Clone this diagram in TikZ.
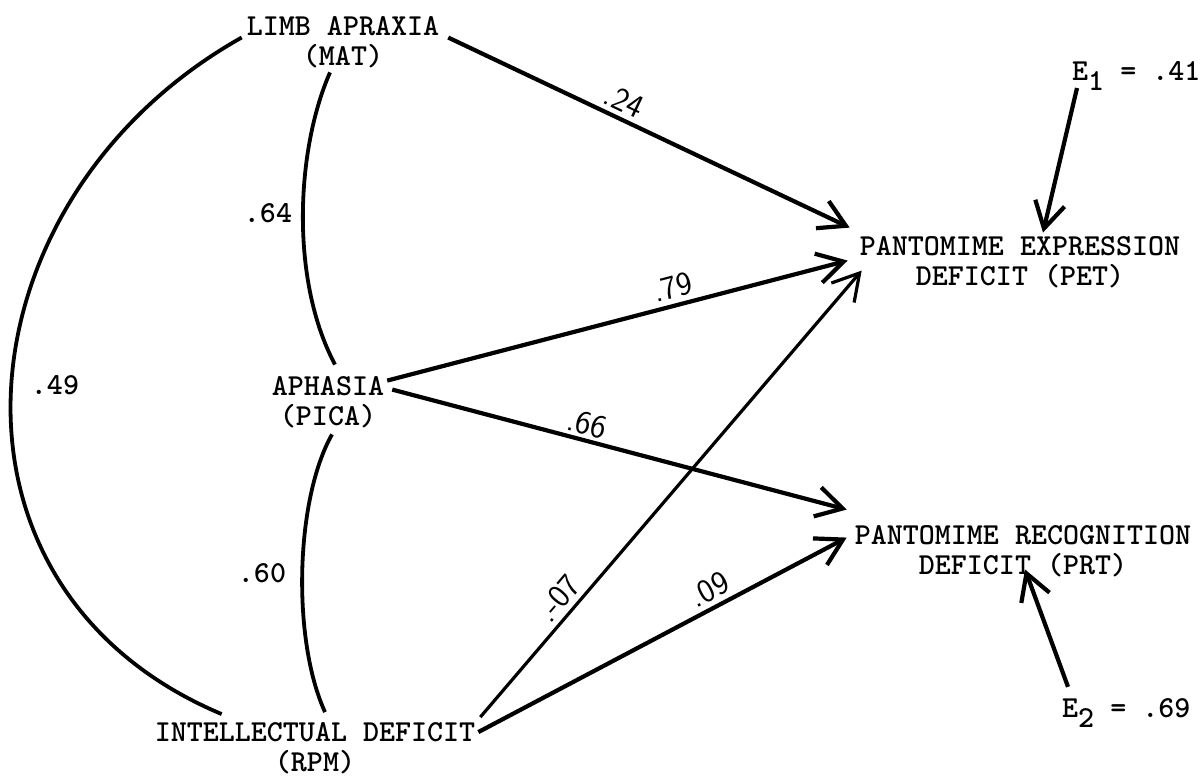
\documentclass[tikz,border=0pt]{standalone}
\usepackage{tikz}
\usetikzlibrary{arrows.meta}

\begin{document}
\begin{tikzpicture}[x=1pt, y=-1pt,
    var/.style={font=\ttfamily\bfseries\fontsize{30.5}{30}\selectfont, align=center, inner sep=0pt},
    coef/.style={font=\sffamily\fontsize{33}{33}\selectfont, sloped, above, inner sep=5pt},
    effect/.style={line width=4.2pt, -{Straight Barb[length=26pt,width=30pt]}},
    corr/.style={line width=3.8pt}]
  \useasboundingbox (0,0) rectangle (1204,778);

  % variables
  \node[var] (mat) at (343,42.5) {LIMB APRAXIA\\(MAT)};
  \node[var] (pica) at (328,402.5) {APHASIA\\(PICA)};
  \node[var] (rpm) at (315,748) {INTELLECTUAL DEFICIT\\(RPM)};
  \node[var] (pet) at (1020,262.5) {PANTOMIME EXPRESSION\\DEFICIT (PET)};
  \node[var] (prt) at (1023,551.5) {PANTOMIME RECOGNITION\\DEFICIT (PRT)};
  \node[var, anchor=base west] (e1) at (1072,81) {E\raisebox{-10pt}{1} = .41};
  \node[var, anchor=base west] (e2) at (1062,717) {E\raisebox{-10pt}{2} = .69};

  % correlations
  \draw[corr] ([shift={(-13,4)}]mat.south) .. controls (296,150) and (290,280) .. ([shift={(7,-12)}]pica.north);
  \draw[corr] ([shift={(4,6)}]pica.south) .. controls (295,500) and (292,640) .. ([shift={(10,-10)}]rpm.north);
  \draw[corr] ([shift={(-5,-5)}]mat.west) .. controls (-44,198) and (-81,587) .. ([shift={(67,-8)}]rpm.north west);
  \node[var] (rma) at (268,213) {.64};
  \node[var] (rai) at (262,573) {.60};
  \node[var] (rmi) at (55,385) {.49};

  % paths
  \draw[effect] ([shift={(9,21)}]mat.north east) -- node[coef, pos=0.42] (b24) {.24} ([shift={(-10,-9)}]pet.north west);
  \draw[effect] ([shift={(3,4)}]pica.north east) -- node[coef, pos=0.63] (b79) {.79} ([shift={(-12,24)}]pet.north west);
  \draw[effect] ([shift={(8,13)}]pica.north east) -- node[coef, pos=0.42, inner sep=3pt] (b66) {.66} ([shift={(-8,-16)}]prt.north west);
  \draw[effect, line width=3.2pt] ([shift={(5,-5)}]rpm.north east) -- node[coef, pos=0.24] (b07) {.-07} ([shift={(2,34)}]pet.north west);
  \draw[effect] ([shift={(3,10)}]rpm.north east) -- node[coef, pos=0.65] (b09) {.09} ([shift={(-8,12)}]prt.north west);

  % residuals
  \draw[effect] ([shift={(5,7)}]e1.base west) -- ([shift={(23,-4)}]pet.north);
  \draw[effect] ([shift={(6,-11)}]e2.north west) -- ([shift={(2,-8)}]prt.south);
\end{tikzpicture}
\end{document}
